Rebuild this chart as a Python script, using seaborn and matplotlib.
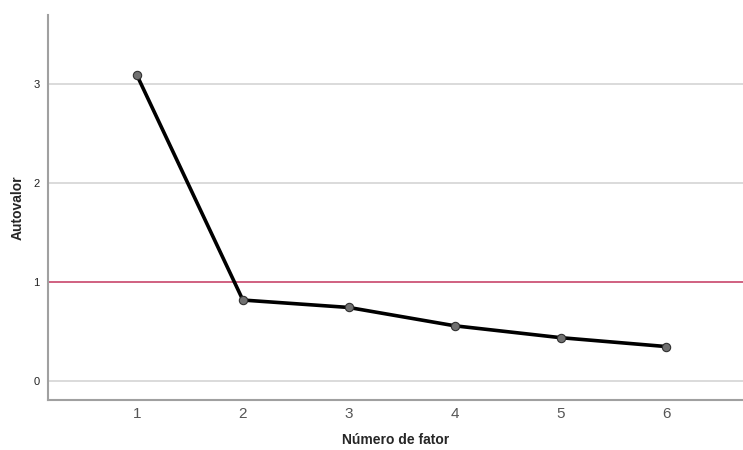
import matplotlib
matplotlib.use("Agg")
import matplotlib.pyplot as plt
import seaborn as sns
import pandas as pd

# Scree plot data
fatores = [1, 2, 3, 4, 5, 6]
autovalores = [3.09, 0.82, 0.745, 0.56, 0.44, 0.35]
y_ticks = [0, 1, 2, 3]
kaiser = 1.0

df = pd.DataFrame({"fator": fatores, "autovalor": autovalores})

sns.set_style("white")
plt.rcParams["font.family"] = ["Liberation Sans", "DejaVu Sans"]

fig = plt.figure(figsize=(7.43, 4.5), dpi=100)
ax = fig.add_axes([0.0646, 0.111, 0.935, 0.856])

for t in y_ticks:
    ax.axhline(t, color="#d4d4d4", linewidth=1.2, zorder=0)
ax.axhline(kaiser, color="#d0587a", linewidth=1.3, zorder=1)

sns.lineplot(data=df, x="fator", y="autovalor", ax=ax, color="black",
             linewidth=2.6, marker="o", markersize=6,
             markerfacecolor="#707070", markeredgecolor="#303030",
             markeredgewidth=0.8, zorder=3)

ax.set_xlim(0.16, 6.72)
ax.set_ylim(-0.19, 3.70)
ax.set_xticks(fatores)
ax.set_yticks(y_ticks)
ax.tick_params(axis="x", labelsize=11, colors="#555555", length=0, pad=5)
ax.tick_params(axis="y", labelsize=8, colors="#222222", length=0, pad=6)

for side in ["top", "right"]:
    ax.spines[side].set_visible(False)
for side in ["left", "bottom"]:
    ax.spines[side].set_color("#a0a0a0")
    ax.spines[side].set_linewidth(1.5)

ax.set_xlabel("Número de fator", fontsize=10, fontweight="bold", labelpad=9)
ax.set_ylabel("Autovalor", fontsize=10, fontweight="bold", labelpad=6)

fig.savefig("out.png", dpi=100)
plt.close(fig)
